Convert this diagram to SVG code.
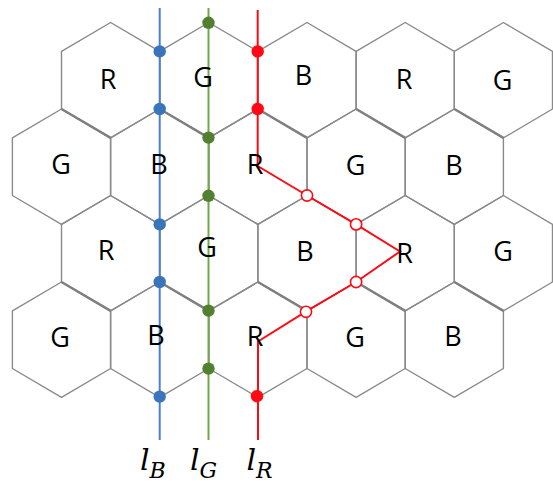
<svg xmlns="http://www.w3.org/2000/svg" width="553" height="483" viewBox="0 0 553 483">
  <style>
    .hex { fill: none; stroke: #8a8a8a; stroke-width: 1.4; stroke-linejoin: round; }
    .heavy { fill: none; stroke: #7f7f7f; stroke-width: 2.4; }
    .lbl { font-family: "Open Sans", "Noto Sans", sans-serif; font-size: 27px; fill: #000; text-anchor: middle; }
    .ln { fill: none; stroke-width: 2; }
    .blue { stroke: #4f80c4; }
    .green { stroke: #72a84a; }
    .red { stroke: #ff0a14; }
    .dotB { fill: #3a74bb; }
    .dotG { fill: #537f31; }
    .dotR { fill: #ff0a14; }
    .open { fill: #fff; stroke: #ff0a14; stroke-width: 1.6; }
    .math { font-family: "DejaVu Serif", "Liberation Serif", serif; font-style: italic; fill: #000; }
  </style>
  <defs>
    <!-- pointy-top hexagon centred on the origin -->
    <polygon id="hx" points="0,-57.7 49.1,-28.8 49.1,28.8 0,57.7 -49.1,28.8 -49.1,-28.8"/>
  </defs>
  <rect width="553" height="483" fill="#fff"/>

  <!-- hexagonal cells -->
  <g id="grid">
    <g id="row1">
      <use href="#hx" class="hex" x="110.6" y="80.2"/>
      <use href="#hx" class="hex" x="208.8" y="80.2"/>
      <use href="#hx" class="hex" x="307" y="80.2"/>
      <use href="#hx" class="hex" x="405.2" y="80.2"/>
      <use href="#hx" class="hex" x="503.4" y="80.2"/>
    </g>
    <g id="row2">
      <use href="#hx" class="hex" x="61.5" y="166.7"/>
      <use href="#hx" class="hex" x="159.7" y="166.7"/>
      <use href="#hx" class="hex" x="257.9" y="166.7"/>
      <use href="#hx" class="hex" x="356.1" y="166.7"/>
      <use href="#hx" class="hex" x="454.3" y="166.7"/>
    </g>
    <g id="row3">
      <use href="#hx" class="hex" x="110.6" y="253.2"/>
      <use href="#hx" class="hex" x="208.8" y="253.2"/>
      <use href="#hx" class="hex" x="307" y="253.2"/>
      <use href="#hx" class="hex" x="405.2" y="253.2"/>
      <use href="#hx" class="hex" x="503.4" y="253.2"/>
    </g>
    <g id="row4">
      <use href="#hx" class="hex" x="61.5" y="339.7"/>
      <use href="#hx" class="hex" x="159.7" y="339.7"/>
      <use href="#hx" class="hex" x="257.9" y="339.7"/>
      <use href="#hx" class="hex" x="356.1" y="339.7"/>
      <use href="#hx" class="hex" x="454.3" y="339.7"/>
    </g>
    <!-- shared edges that print darker -->
    <path class="heavy" d="M61.5,109 L110.6,137.9 M159.7,109 L208.8,137.9 M257.9,109 L307,137.9 M356.1,109 L405.2,137.9 M454.3,109 L503.4,137.9
                           M61.5,282 L110.6,310.9 M159.7,282 L208.8,310.9 M257.9,282 L307,310.9 M356.1,282 L405.2,310.9 M454.3,282 L503.4,310.9"/>
  </g>

  <!-- lines and the points on them -->
  <g id="connectors">
    <path id="lB" class="ln blue" d="M159.7,8 V440"/>
    <path id="lG" class="ln green" d="M208.5,8 V440"/>
    <path id="lR" class="ln red" d="M257.7,10 V166 L307,195.5 L356.1,224.4 L400,251.5 L356.1,282 L307,310.9 L258,341.5 V440"/>

    <g class="dotB">
      <circle cx="159.7" cy="51.4" r="6.2"/>
      <circle cx="159.7" cy="109" r="6.2"/>
      <circle cx="159.7" cy="224.4" r="6.2"/>
      <circle cx="159.7" cy="282" r="6.2"/>
      <circle cx="159.7" cy="396.6" r="6.2"/>
    </g>
    <g class="dotG">
      <circle cx="208.5" cy="22.8" r="6.2"/>
      <circle cx="208.5" cy="137.6" r="6.2"/>
      <circle cx="208.5" cy="195.8" r="6.2"/>
      <circle cx="208.5" cy="310.6" r="6.2"/>
      <circle cx="208.5" cy="368.6" r="6.2"/>
    </g>
    <g class="dotR">
      <circle cx="257.7" cy="51.4" r="6.2"/>
      <circle cx="257.7" cy="109" r="6.2"/>
      <circle cx="257" cy="396.2" r="6.2"/>
    </g>
    <g>
      <circle class="open" cx="307" cy="195.5" r="5.6"/>
      <circle class="open" cx="356.1" cy="224.4" r="5.6"/>
      <circle class="open" cx="356.1" cy="282" r="5.6"/>
      <circle class="open" cx="306" cy="311.8" r="5.6"/>
    </g>
  </g>

  <!-- cell colours -->
  <g id="labels">
    <text class="lbl" x="108" y="88.8">R</text>
    <text class="lbl" x="203" y="86.8">G</text>
    <text class="lbl" x="303.5" y="84.8">B</text>
    <text class="lbl" x="404" y="88.8">R</text>
    <text class="lbl" x="502.5" y="89.8">G</text>

    <text class="lbl" x="61" y="174.3">G</text>
    <text class="lbl" x="159" y="174.3">B</text>
    <text class="lbl" x="255" y="173.8">R</text>
    <text class="lbl" x="355.5" y="175.3">G</text>
    <text class="lbl" x="454" y="174.8">B</text>

    <text class="lbl" x="106" y="259.8">R</text>
    <text class="lbl" x="207" y="257.3">G</text>
    <text class="lbl" x="305" y="260.8">B</text>
    <text class="lbl" x="404.5" y="262.8">R</text>
    <text class="lbl" x="503" y="260.8">G</text>

    <text class="lbl" x="60" y="346.8">G</text>
    <text class="lbl" x="156" y="344.8">B</text>
    <text class="lbl" x="255" y="346.3">R</text>
    <text class="lbl" x="355" y="346.8">G</text>
    <text class="lbl" x="453" y="345.8">B</text>
  </g>

  <!-- line names -->
  <g id="names">
    <text class="math" x="140" y="469.5" font-size="30">l<tspan font-size="22" dy="8.5">B</tspan></text>
    <text class="math" x="190" y="469.5" font-size="30">l<tspan font-size="22" dy="8.5">G</tspan></text>
    <text class="math" x="246.5" y="469.5" font-size="30">l<tspan font-size="22" dy="8.5">R</tspan></text>
  </g>
</svg>
